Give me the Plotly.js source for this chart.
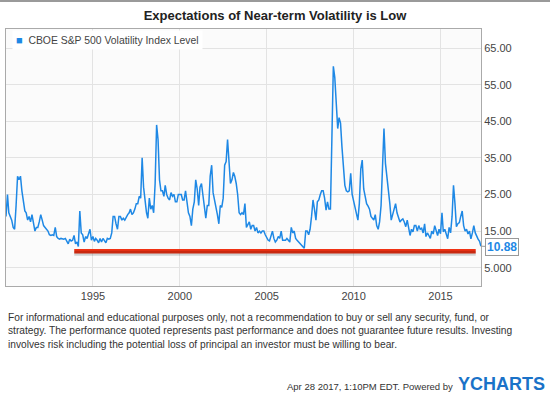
<!DOCTYPE html>
<html>
<head>
<meta charset="utf-8">
<script src="https://cdn.plot.ly/plotly-3.0.1.min.js"></script>
<style>html,body{margin:0;padding:0;background:#fff;}#chart{width:550px;height:396px;}</style>
</head>
<body>
<div id="chart"></div>
<script>
// CBOE S&P 500 Volatility Index Level, monthly readings
const vix1990 = [19, 25, 20, 19, 18, 16, 15.5, 22, 30, 29, 30, 26];
const vix1991 = [23, 20.5, 20, 18, 19, 17.5, 19.5, 16.5, 15, 16, 16, 17.5];
const vix1992 = [19.5, 18, 16.5, 16, 15.5, 15, 14, 13.8, 14, 13.8, 16, 13.5];
const vix1993 = [13, 12.8, 13, 12.8, 12.8, 13, 12.2, 11.5, 12.8, 12.3, 12.5, 13.8];
const vix1994 = [11.5, 12, 10.8, 20.5, 14.5, 14, 12, 13.5, 13, 14.5, 15.5, 12.5];
const vix1995 = [13.5, 12.2, 13, 12.5, 11.8, 13, 12, 13, 12.5, 11.8, 13, 12.8];
const vix1996 = [13, 14.5, 19, 19, 17, 15.5, 19, 19, 18, 18.5, 18, 19];
const vix1997 = [19.5, 20, 21, 19.5, 20, 21, 22.5, 22.5, 24.5, 24, 35, 27];
const vix1998 = [23, 20, 18.5, 24, 21, 22, 20, 28, 44, 40, 29, 26];
const vix1999 = [26, 24.5, 27.5, 25, 24, 23.5, 25.5, 24.5, 25, 23, 23, 25];
const vix2000 = [25, 25, 23.5, 23.5, 26, 22, 20, 19, 16.5, 21, 23, 29];
const vix2001 = [26.5, 22, 27, 28, 25, 21, 18.5, 22, 22, 30, 33, 25.5];
const vix2002 = [23.5, 22, 19.5, 17, 22, 21.5, 24, 33, 34, 40, 33.5, 28];
const vix2003 = [29, 31, 30, 28, 25, 20, 19.5, 20, 19.5, 22.5, 16, 17];
const vix2004 = [17.5, 15.5, 16.5, 16.5, 15, 16, 14.5, 15, 14.5, 15, 15, 14];
const vix2005 = [13, 12.5, 12.3, 13.5, 15, 13, 12, 12.5, 13.5, 13, 15, 12.5];
const vix2006 = [12.5, 12.5, 13, 12.5, 12, 16, 14.5, 15, 13, 12.5, 12, 11.5];
const vix2007 = [11, 10.6, 10.3, 15, 15, 14, 15.5, 19, 23.5, 21, 18, 23];
const vix2008 = [23.5, 25, 26, 26, 24, 20.7, 23, 21, 21, 40, 60, 57];
const vix2009 = [49, 43, 46, 44.5, 38, 31, 27.5, 26, 25.7, 26, 30.8, 25];
const vix2010 = [23, 21, 19.5, 18, 22.5, 32, 34.4, 26.5, 24.5, 22.5, 21.8, 21];
const vix2011 = [19, 18.5, 18, 19.5, 16.5, 15.5, 17.5, 22, 34, 43, 33.5, 30];
const vix2012 = [27, 22.5, 18, 19.5, 21, 22.5, 20, 18.5, 17.5, 18, 18.3, 17.5];
const vix2013 = [16.2, 18, 15.5, 13.8, 15.5, 14.8, 16.5, 16.5, 15, 16.5, 15.5, 15.8];
const vix2014 = [14.5, 17, 13.5, 14.5, 13.8, 13, 15, 14.2, 16.5, 15, 13.8, 15.5];
const vix2015 = [14.3, 20, 14.8, 15.5, 14.5, 12.9, 16, 14.5, 19, 27.5, 22.5, 16.2];
const vix2016 = [17, 17.3, 19, 20.5, 16.5, 15, 15.5, 14.2, 15, 12.9, 14.5, 16.5];
const vix2017 = [14.5, 13.5, 12.8, 12.2];
const years = [1990,1991,1992,1993,1994,1995,1996,1997,1998,1999,2000,2001,2002,2003,2004,2005,2006,2007,2008,2009,2010,2011,2012,2013,2014,2015,2016,2017];
const yearValues = [vix1990,vix1991,vix1992,vix1993,vix1994,vix1995,vix1996,vix1997,vix1998,vix1999,vix2000,vix2001,vix2002,vix2003,vix2004,vix2005,vix2006,vix2007,vix2008,vix2009,vix2010,vix2011,vix2012,vix2013,vix2014,vix2015,vix2016,vix2017];
const lastDate = '2017-04-28';
const lastValue = 10.88;

// highlighted "low" level drawn on the chart
const redDates = ['1993-12-05', '2017-01-10'];
const redLevel = [9.47, 9.47];

const yTickVals = [5, 15, 25, 35, 45, 55, 65];
const yTickText = ['5.000', '15.00', '25.00', '35.00', '45.00', '55.00', '65.00'];

const seriesName = 'CBOE S&P 500 Volatility Index Level';
const titleText = 'Expectations of Near-term Volatility is Low';
const disclaimer = ['For informational and educational purposes only, not a recommendation to buy or sell any security, fund, or',
  'strategy. The performance quoted represents past performance and does not guarantee future results. Investing',
  'involves risk including the potential loss of principal an investor must be willing to bear.'];
const stamp = 'Apr 28 2017, 1:10PM EDT. Powered by';
const brand = 'YCHARTS';

const dates = [], values = [];
years.forEach((y, i) => {
  yearValues[i].forEach((v, m) => {
    dates.push(y + '-' + String(m + 1).padStart(2, '0') + '-01');
    values.push(v);
  });
});
dates.push(lastDate); values.push(lastValue);

const BLUE = '#1e88e5';
const RED = '#f03214';
const FONT = 'Arial, "Liberation Sans", sans-serif';

const traces = [
  { x: redDates, y: redLevel, yaxis: 'y3', type: 'scatter', mode: 'lines',
    line: { color: 'rgba(0,0,0,0.16)', width: 5 }, hoverinfo: 'skip', showlegend: false },
  { x: redDates, y: redLevel, type: 'scatter', mode: 'lines',
    line: { color: RED, width: 4.5 }, hoverinfo: 'skip', showlegend: false },
  { x: dates, y: values, type: 'scatter', mode: 'lines', name: seriesName,
    line: { color: BLUE, width: 1.5 }, showlegend: false }
];

const layout = {
  width: 550, height: 396,
  margin: { l: 6, r: 69, t: 29, b: 110 },
  paper_bgcolor: '#ffffff',
  plot_bgcolor: '#fbfbfb',
  font: { family: FONT, size: 11, color: '#444' },
  title: { text: '<b>' + titleText + '</b>', font: { family: FONT, size: 13, color: '#222' },
    xref: 'container', x: 0.5, xanchor: 'center', yref: 'container', y: 1 - 15 / 396, yanchor: 'middle' },
  showlegend: false,
  xaxis: {
    type: 'date', range: ['1990-01-01', '2017-05-01'],
    tick0: '1995-01-01', dtick: 'M60', tickformat: '%Y', ticks: '',
    showgrid: true, gridcolor: '#e3e3e3', gridwidth: 1,
    showline: true, mirror: true, linecolor: '#aaaaaa', linewidth: 1,
    zeroline: false, tickfont: { size: 11, color: '#444' }
  },
  yaxis: {
    side: 'right', range: [0, 70.2],
    tickmode: 'array', tickvals: yTickVals, ticktext: yTickText, ticks: '',
    showgrid: true, gridcolor: '#e3e3e3', gridwidth: 1,
    showline: true, mirror: true, linecolor: '#aaaaaa', linewidth: 1,
    zeroline: false, tickfont: { size: 11, color: '#444' }
  },
  yaxis3: { overlaying: 'y', range: [0.55, 70.75], visible: false, fixedrange: true },
  shapes: [
    { type: 'line', xref: 'paper', yref: 'paper', x0: -0.0126, x1: 1.1453, y0: (286 - 1) / 257, y1: (286 - 1) / 257,
      line: { color: '#9a9a9a', width: 2 } }
  ],
  annotations: [
    { xref: 'paper', yref: 'paper', x: 0, y: 1, xanchor: 'left', yanchor: 'top', showarrow: false,
      text: '<span style="color:' + BLUE + ';font-size:11px">■</span>&nbsp;&nbsp;' + seriesName,
      font: { family: FONT, size: 10.4, color: '#444' }, bgcolor: '#ffffff', borderpad: 3, xshift: 6, yshift: -1 },
    { x: lastDate, y: lastValue, xref: 'x', yref: 'y', text: '<b>' + lastValue.toFixed(2) + '</b>',
      showarrow: true, arrowhead: 0, arrowwidth: 1, arrowcolor: '#999', ax: 21, ay: 1,
      font: { family: FONT, size: 12, color: BLUE }, bgcolor: '#ffffff', bordercolor: '#999', borderwidth: 1, borderpad: 1 },
    { xref: 'paper', yref: 'paper', x: 0, y: (286 - 331) / 257, xanchor: 'left', yanchor: 'middle', align: 'left',
      showarrow: false, text: disclaimer.join('<br>'), font: { family: FONT, size: 10.2, color: '#333' } },
    { xref: 'paper', yref: 'paper', x: (455 - 6) / 475, y: (286 - 386) / 257, xanchor: 'right', yanchor: 'middle',
      showarrow: false, text: stamp, font: { family: FONT, size: 9.5, color: '#333' } },
    { xref: 'paper', yref: 'paper', x: (456 - 6) / 475, y: (286 - 384) / 257, xanchor: 'left', yanchor: 'middle',
      showarrow: false, text: '<b>' + brand + '</b>', font: { family: FONT, size: 18, color: '#1a72c8' } }
  ]
};

Plotly.newPlot('chart', traces, layout, { displayModeBar: false, staticPlot: true });
</script>
</body>
</html>
